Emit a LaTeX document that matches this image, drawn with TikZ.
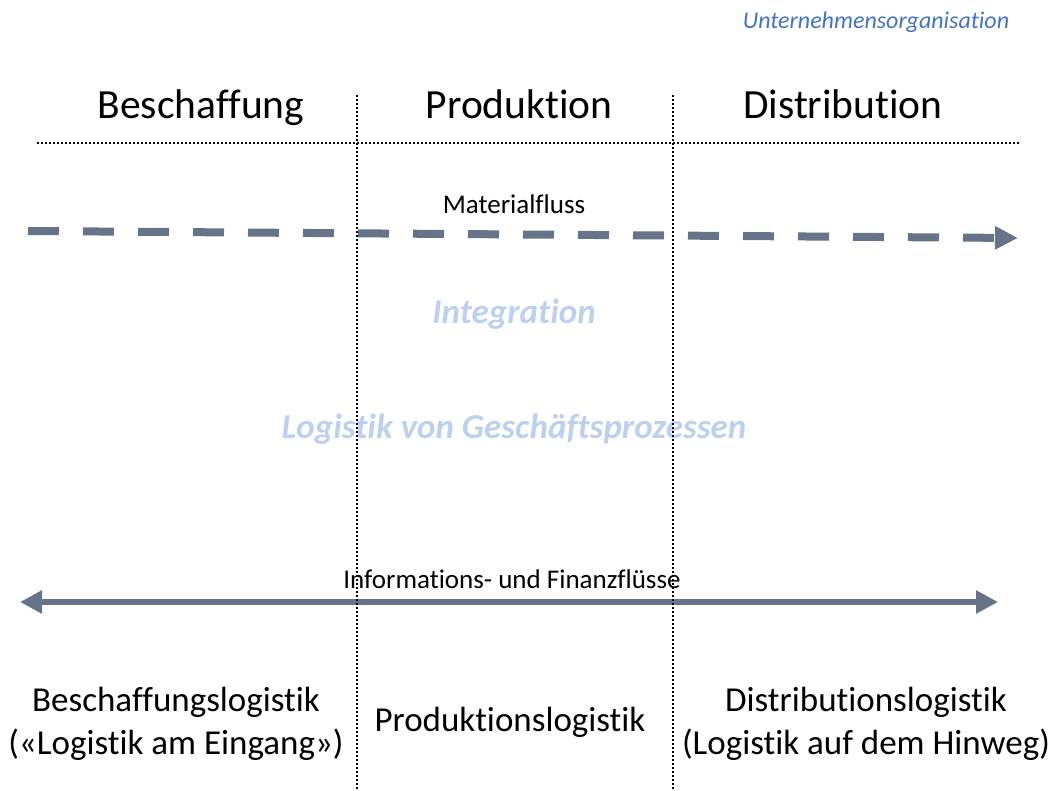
\documentclass[tikz,border=0pt]{standalone}
\usepackage{fontspec}
\setmainfont{Carlito}[Ligatures=NoCommon]
\usetikzlibrary{arrows.meta}
\definecolor{flowgray}{HTML}{667389}
\definecolor{orgblue}{HTML}{4472C4}
\definecolor{paleblue}{HTML}{BDD0EE}
\tikzstyle{node_head} = [anchor=base, inner sep=0pt, font=\fontsize{41.5}{46}\selectfont]
\tikzstyle{node_flow} = [anchor=base, inner sep=0pt, font=\fontsize{27}{31}\selectfont]
\tikzstyle{node_pale} = [anchor=base, inner sep=0pt, text=paleblue, font=\fontsize{35}{40}\selectfont\bfseries\itshape]
\tikzstyle{node_foot} = [anchor=base, inner sep=0pt, align=center, font=\fontsize{35}{43}\selectfont]
\tikzstyle{edge_sep} = [line width=2pt, dash pattern=on 2pt off 2pt]
\tikzstyle{edge_material} = [flowgray, line width=8pt, dash pattern=on 31pt off 24pt, -{Triangle[length=23pt,width=22pt]}]
\tikzstyle{edge_info} = [flowgray, line width=6pt, {Triangle[length=22pt,width=22pt]}-{Triangle[length=22pt,width=22pt]}]

\begin{document}
\begin{tikzpicture}[x=1pt, y=-1pt]
\useasboundingbox (0,0) rectangle (1056,791);

\node (U) at (876,29) [anchor=base, inner sep=0pt, text=orgblue, font=\fontsize{24}{28}\selectfont\itshape] {Unternehmensorganisation};

\node (B) at (201,119) [node_head] {Beschaffung};
\node (P) at (519,119) [node_head] {Produktion};
\node (D) at (843,119) [node_head] {Distribution};

\node (M) at (514,214) [node_flow] {Materialfluss};
\coordinate (M1) at (28,231);
\coordinate (M2) at (1018,238);
\draw[edge_material] (M1)--(M2);

\node (I) at (514,323) [node_pale] {Integration};
\node (L) at (514,438) [node_pale] {Logistik von Geschäftsprozessen};

\node (F) at (512,588) [node_flow] {Informations- und Finanzflüsse};
\coordinate (F1) at (20,602);
\coordinate (F2) at (998,602);
\draw[edge_info] (F1)--(F2);

\node (BL) at (176,754) [node_foot] {Beschaffungslogistik\\(«Logistik am Eingang»)};
\node (PL) at (510,731) [node_foot] {Produktionslogistik};
\node (DL) at (866,754) [node_foot] {Distributionslogistik\\(Logistik auf dem Hinweg)};

\coordinate (T1) at (37,143);
\coordinate (T2) at (1020,143);
\coordinate (S1) at (357,95);
\coordinate (S2) at (357,791);
\coordinate (R1) at (673,95);
\coordinate (R2) at (673,791);
\draw[edge_sep] (T1)--(T2);
\draw[edge_sep] (S1)--(S2);
\draw[edge_sep] (R1)--(R2);
\end{tikzpicture}
\end{document}
